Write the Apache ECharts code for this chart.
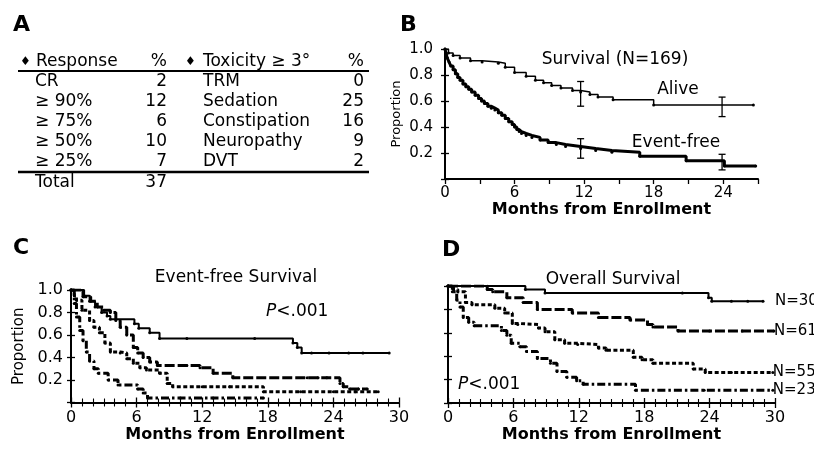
<!DOCTYPE html>
<html>
<head>
<meta charset="utf-8">
<script src="https://cdn.jsdelivr.net/npm/echarts@6.0.0/dist/echarts.min.js"></script>
<style>
html, body { margin: 0; padding: 0; background: #fff; }
#chart { width: 814px; height: 449px; }
</style>
</head>
<body>
<div id="chart"></div>
<script>
// A: response / toxicity table
var responseRows = ['CR', '≥ 90%', '≥ 75%', '≥ 50%', '≥ 25%'];
var responsePct = [2, 12, 6, 10, 7];
var responseTotal = 37;
var toxicityRows = ['TRM', 'Sedation', 'Constipation', 'Neuropathy', 'DVT'];
var toxicityPct = [0, 25, 16, 9, 2];

// B: survival, all patients [month, proportion]
var bAlive = [[0, 1], [0.3, 0.97], [0.7, 0.95], [1.3, 0.93], [2.2, 0.91], [3.2, 0.9], [4.6, 0.89], [5.2, 0.86], [6, 0.82], [7, 0.79], [7.8, 0.76], [8.5, 0.74], [9.2, 0.72], [10, 0.7], [11, 0.68], [11.7, 0.67], [12.5, 0.65], [13.2, 0.63], [14.5, 0.61], [18, 0.57], [26.6, 0.57]];
var bEventFree = [[0, 1], [0.1, 0.96], [0.2, 0.93], [0.35, 0.9], [0.5, 0.87], [0.7, 0.84], [0.9, 0.81], [1.1, 0.78], [1.3, 0.76], [1.55, 0.73], [1.8, 0.71], [2.05, 0.69], [2.3, 0.67], [2.6, 0.645], [2.9, 0.62], [3.15, 0.6], [3.4, 0.58], [3.7, 0.56], [4, 0.545], [4.3, 0.53], [4.6, 0.51], [4.9, 0.49], [5.2, 0.465], [5.5, 0.44], [5.8, 0.42], [6, 0.4], [6.2, 0.38], [6.4, 0.365], [6.6, 0.35], [7, 0.335], [7.5, 0.32], [8.2, 0.3], [8.9, 0.28], [9.6, 0.265], [10.4, 0.25], [11.7, 0.235], [13, 0.22], [14.4, 0.205], [16.8, 0.175], [20.8, 0.14], [24.1, 0.1], [26.8, 0.1]];
// error bars [month, low, high]
var bErrorBars = [[11.7, 0.56, 0.75], [23.9, 0.48, 0.63], [11.7, 0.16, 0.31], [23.9, 0.07, 0.19]];

// C: event-free survival by group
var cSolid = [[0, 1], [1.2, 0.95], [1.7, 0.9], [2.2, 0.85], [2.8, 0.8], [3.3, 0.77], [3.6, 0.74], [5.8, 0.7], [6.2, 0.66], [7.2, 0.62], [8.1, 0.57], [10.6, 0.57], [16.8, 0.57], [20.3, 0.53], [20.7, 0.49], [21.1, 0.44], [22, 0.44], [23.6, 0.44], [25.4, 0.44], [26.7, 0.44], [29.1, 0.44]];
var cLongDash = [[0, 1], [1.1, 0.94], [1.8, 0.9], [2.4, 0.85], [3, 0.82], [3.6, 0.8], [4.1, 0.73], [4.5, 0.67], [5.1, 0.6], [5.7, 0.49], [6.1, 0.44], [6.6, 0.4], [7.2, 0.36], [7.9, 0.33], [10.6, 0.33], [11.8, 0.31], [13, 0.26], [14.8, 0.22], [21.6, 0.22], [22.6, 0.22], [23.4, 0.22], [24.6, 0.17], [24.9, 0.14], [25.5, 0.12], [26.3, 0.12], [27.1, 0.12]];
var cShortDash = [[0, 1], [0.3, 0.95], [0.5, 0.91], [1, 0.82], [1.7, 0.73], [2.1, 0.67], [2.6, 0.62], [3.1, 0.53], [3.6, 0.45], [4.5, 0.44], [5.1, 0.39], [5.7, 0.35], [6.3, 0.31], [6.9, 0.29], [8.1, 0.26], [8.8, 0.17], [9.3, 0.14], [12, 0.14], [14.5, 0.14], [17.6, 0.095], [21, 0.095], [24, 0.095], [26, 0.095], [28.1, 0.095]];
var cDashDot = [[0, 1], [0.3, 0.88], [0.5, 0.76], [0.8, 0.64], [1.1, 0.55], [1.4, 0.45], [1.7, 0.37], [2.1, 0.3], [2.5, 0.26], [3.4, 0.2], [4.3, 0.155], [6.1, 0.12], [6.6, 0.085], [7, 0.04], [10, 0.04], [13, 0.04], [17.6, 0.04]];

// D: overall survival by group
var dN30 = [[0, 1], [7.1, 0.97], [8.9, 0.94], [21.5, 0.94], [23.9, 0.9], [24.2, 0.87], [26, 0.87], [27.5, 0.87], [28.9, 0.87]];
var dN61 = [[0, 1], [3.6, 0.97], [4.1, 0.95], [5.4, 0.9], [6.9, 0.86], [8.2, 0.8], [11.4, 0.77], [13.8, 0.73], [16.7, 0.71], [18.3, 0.67], [18.8, 0.65], [21.1, 0.615], [24, 0.615], [27, 0.615], [29.9, 0.615]];
var dN55 = [[0, 1], [0.5, 0.97], [0.9, 0.95], [1.6, 0.86], [2.2, 0.84], [4.3, 0.81], [5.2, 0.77], [5.9, 0.68], [6.4, 0.67], [8.3, 0.64], [8.9, 0.61], [9.8, 0.54], [10.7, 0.51], [11.9, 0.5], [13.8, 0.47], [14.5, 0.45], [17, 0.39], [17.8, 0.37], [18.8, 0.34], [22.5, 0.29], [23.6, 0.26], [26, 0.26], [29.8, 0.26]];
var dN23 = [[0, 1], [0.4, 0.95], [0.8, 0.88], [1.1, 0.82], [1.4, 0.73], [1.9, 0.69], [2.4, 0.66], [4.9, 0.62], [5.4, 0.58], [5.8, 0.51], [6.6, 0.48], [7.2, 0.44], [8.2, 0.38], [9.4, 0.34], [10, 0.27], [10.9, 0.22], [11.8, 0.19], [12.4, 0.16], [17.2, 0.11], [23.5, 0.11], [29.8, 0.11]];
var dLabels = ['N=30', 'N=61', 'N=55', 'N=23'];

var FONT = 'DejaVu Sans';
var BLACK = '#000';

var chart = echarts.init(document.getElementById('chart'), null, {renderer: 'canvas'});

// x axis with ticks below the line
function mainX(grid, max, interval, minor, fontSize, nameGap) {
    return {
        type: 'value', gridIndex: grid, min: 0, max: max, interval: interval, position: 'bottom',
        axisLine: {onZero: false, lineStyle: {color: BLACK, width: 2}},
        axisTick: {length: 5, lineStyle: {color: BLACK, width: 1.3}},
        minorTick: {show: minor, splitNumber: 6, length: 4, lineStyle: {color: BLACK, width: 1.1}},
        axisLabel: {
            color: BLACK, fontFamily: FONT, fontSize: fontSize, margin: 7,
            formatter: function (v) { return v % 6 === 0 ? String(v) : ''; }
        },
        splitLine: {show: false},
        name: 'Months from Enrollment', nameLocation: 'middle', nameGap: nameGap,
        nameTextStyle: {color: BLACK, fontFamily: FONT, fontWeight: 'bold', fontSize: 16}
    };
}
// same axis, ticks pointing up into the plot (gives the crossed ticks)
function innerX(grid, max) {
    return {
        type: 'value', gridIndex: grid, min: 0, max: max, interval: 6, position: 'bottom',
        axisLine: {show: false, onZero: false},
        axisTick: {inside: true, length: 5, lineStyle: {color: BLACK, width: 1.3}},
        minorTick: {show: true, splitNumber: 6, length: 4, lineStyle: {color: BLACK, width: 1.1}},
        axisLabel: {show: false}, splitLine: {show: false}
    };
}
function mainY(grid, labels, fontSize, margin, name, nameSize, nameGap) {
    return {
        type: 'value', gridIndex: grid, min: 0, max: 1, interval: 0.2, position: 'left',
        axisLine: {onZero: false, lineStyle: {color: BLACK, width: 2}},
        axisTick: {length: 4, lineStyle: {color: BLACK, width: 1.3}},
        axisLabel: {
            show: labels, color: BLACK, fontFamily: FONT, fontSize: fontSize, margin: margin,
            formatter: function (v) { return v === 0 ? '' : v.toFixed(1); }
        },
        splitLine: {show: false},
        name: name, nameLocation: 'middle', nameGap: nameGap,
        nameTextStyle: {color: BLACK, fontFamily: FONT, fontSize: nameSize}
    };
}
function innerY(grid) {
    return {
        type: 'value', gridIndex: grid, min: 0, max: 1, interval: 0.2, position: 'left',
        axisLine: {show: false, onZero: false},
        axisTick: {inside: true, length: 4, lineStyle: {color: BLACK, width: 1.3}},
        axisLabel: {show: false}, splitLine: {show: false}
    };
}

function km(data, xi, yi, width, type, label, labelGap) {
    var s = {
        type: 'line', xAxisIndex: xi, yAxisIndex: yi, data: data, step: 'end',
        symbol: 'circle', symbolSize: 3, showSymbol: true,
        lineStyle: {color: BLACK, width: width, type: type},
        itemStyle: {color: BLACK},
        emphasis: {disabled: true}, z: 3
    };
    if (label) {
        s.endLabel = {show: true, formatter: label, color: BLACK, fontFamily: FONT, fontSize: 15, distance: labelGap};
    }
    return s;
}

var LONG = [10, 3], SHORT = [4, 2.5], DASHDOT = [8, 3, 2.5, 3];

// table A as text
var table = [];
function txt(x, y, s, align, size, weight) {
    table.push({
        type: 'text', x: x, y: y,
        style: {text: s, fill: BLACK, fontFamily: FONT, fontSize: size || 17, fontWeight: weight || 'normal',
            textAlign: align || 'left', textVerticalAlign: 'middle'}
    });
}
txt(13, 25, 'A', 'left', 22, 'bold');
txt(400, 25, 'B', 'left', 22, 'bold');
txt(13, 248, 'C', 'left', 22, 'bold');
txt(442, 250, 'D', 'left', 22, 'bold');

txt(20, 62, '♦', 'left', 12);
txt(36, 62, 'Response');
txt(167, 62, '%', 'right');
txt(185, 62, '♦', 'left', 12);
txt(203, 62, 'Toxicity ≥ 3°');
txt(364, 62, '%', 'right');
responseRows.forEach(function (r, i) {
    txt(35, 82 + i * 20, r);
    txt(167, 82 + i * 20, String(responsePct[i]), 'right');
});
toxicityRows.forEach(function (r, i) {
    txt(203, 82 + i * 20, r);
    txt(364, 82 + i * 20, String(toxicityPct[i]), 'right');
});
txt(35, 183, 'Total');
txt(167, 183, String(responseTotal), 'right');
table.push({type: 'line', shape: {x1: 18, y1: 71, x2: 369, y2: 71}, style: {stroke: BLACK, lineWidth: 2}});
table.push({type: 'line', shape: {x1: 18, y1: 172, x2: 369, y2: 172}, style: {stroke: BLACK, lineWidth: 2.5}});

// panel annotations
txt(615, 60, 'Survival (N=169)', 'center');
txt(678, 90, 'Alive', 'center');
txt(676, 143, 'Event-free', 'center');
txt(236, 278, 'Event-free Survival', 'center');
txt(613, 280, 'Overall Survival', 'center');
[[266, 312], [458, 385]].forEach(function (p) {
    table.push({
        type: 'text', x: p[0], y: p[1],
        style: {text: '{i|P}<.001', fill: BLACK, fontFamily: FONT, fontSize: 17, textVerticalAlign: 'middle',
            rich: {i: {fontStyle: 'italic', fontFamily: FONT, fontSize: 17, fill: BLACK}}}
    });
});

var option = {
    animation: false,
    backgroundColor: '#fff',
    grid: [
        {left: 445, top: 49, width: 313, height: 130, outerBoundsMode: 'none'},
        {left: 71, top: 290, width: 328, height: 112.5, outerBoundsMode: 'none'},
        {left: 448, top: 286, width: 327, height: 117, outerBoundsMode: 'none'}
    ],
    xAxis: [
        mainX(0, 27, 3, false, 15, 22),
        mainX(1, 30, 6, true, 16, 22),
        innerX(1, 30),
        mainX(2, 30, 6, true, 16, 22),
        innerX(2, 30)
    ],
    yAxis: [
        mainY(0, true, 15, 12, 'Proportion', 13, 42),
        innerY(0),
        mainY(1, true, 16, 8, 'Proportion', 15, 44),
        innerY(1),
        mainY(2, false, 16, 8, '', 15, 40),
        innerY(2)
    ],
    series: [
        km(bAlive, 0, 0, 1.5, 'solid'),
        km(bEventFree, 0, 0, 3, 'solid'),
        {
            type: 'custom', xAxisIndex: 0, yAxisIndex: 0, data: bErrorBars,
            encode: {x: 0, y: [1, 2]}, z: 4,
            renderItem: function (params, api) {
                var x = api.value(0);
                var lo = api.coord([x, api.value(1)]);
                var hi = api.coord([x, api.value(2)]);
                var w = 3.5, st = {stroke: BLACK, lineWidth: 1.3};
                return {
                    type: 'group', children: [
                        {type: 'line', shape: {x1: lo[0], y1: lo[1], x2: hi[0], y2: hi[1]}, style: st},
                        {type: 'line', shape: {x1: lo[0] - w, y1: lo[1], x2: lo[0] + w, y2: lo[1]}, style: st},
                        {type: 'line', shape: {x1: hi[0] - w, y1: hi[1], x2: hi[0] + w, y2: hi[1]}, style: st}
                    ]
                };
            }
        },
        km(cSolid, 1, 2, 2, 'solid'),
        km(cLongDash, 1, 2, 3, LONG),
        km(cShortDash, 1, 2, 3, SHORT),
        km(cDashDot, 1, 2, 3, DASHDOT),
        km(dN30, 3, 4, 2, 'solid', dLabels[0], 12),
        km(dN61, 3, 4, 3, LONG, dLabels[1], 0),
        km(dN55, 3, 4, 3, SHORT, dLabels[2], 0),
        km(dN23, 3, 4, 3, DASHDOT, dLabels[3], 0)
    ],
    graphic: table
};

chart.setOption(option);
</script>
</body>
</html>
